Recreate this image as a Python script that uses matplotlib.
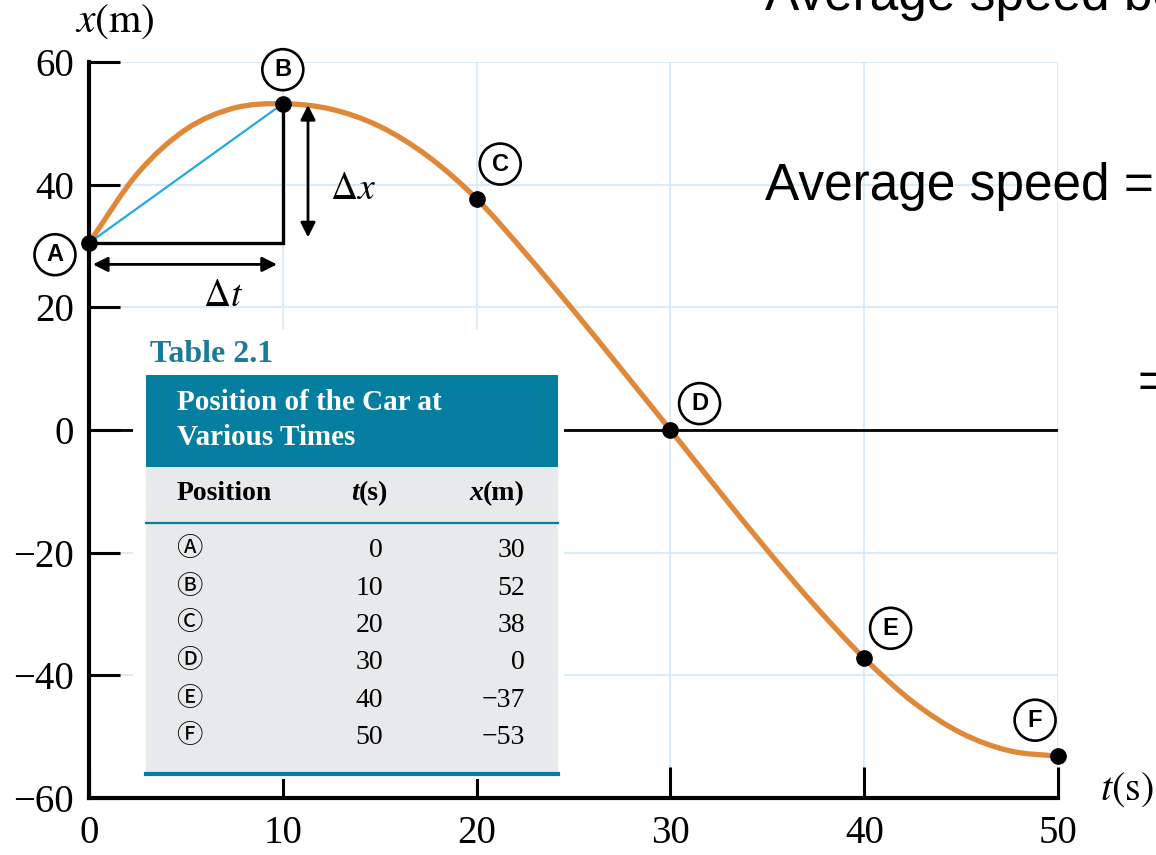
import matplotlib

matplotlib.use("Agg")
import matplotlib.pyplot as plt
from matplotlib.patches import PathPatch, Rectangle
from matplotlib.path import Path
from matplotlib.text import Annotation

plt.rcParams["mathtext.fontset"] = "stix"
plt.rcParams["font.family"] = ["Liberation Serif", "DejaVu Serif"]

# position-time curve of the car
curve_t = [0, 2.5, 5, 7.5, 10, 12.5, 15, 17.5, 20, 22.5, 25, 27.5, 30,
           32.5, 35, 37.5, 40, 42.5, 45, 47.5, 50]
curve_x = [30.5, 41.8, 49.0, 52.5, 53.2, 52.3, 49.5, 44.6, 37.7, 28.9, 19.5,
           9.8, 0, -9.9, -19.6, -28.8, -37.2, -44.3, -49.4, -52.3, -53.2]

# table 2.1
positions = ["A", "B", "C", "D", "E", "F"]
table_t = [0, 10, 20, 30, 40, 50]
table_x = [30, 52, 38, 0, -37, -53]
circled = ["\u24b6", "\u24b7", "\u24b8", "\u24b9", "\u24ba", "\u24bb"]

# label offsets (points) of the circled letters from their dots
label_offsets = [(-24.5, -8.5), (0, 24.5), (17, 25), (21, 19), (19, 21.5), (-16.5, 26)]

xticks = [0, 10, 20, 30, 40, 50]
yticks = [-60, -40, -20, 0, 20, 40, 60]

W, H = 1156, 855
ORANGE = "#e0883a"
BLUE = "#22aae1"
TEAL = "#067e9f"
GRID = "#cfe7f7"


def fx(px):
    return px / W


def fy(py):
    return 1 - py / H


def smooth_path(t, x):
    # cubic Hermite segments through the read points
    n = len(t)
    slopes = []
    for i in range(n):
        a, b = max(i - 1, 0), min(i + 1, n - 1)
        slopes.append((x[b] - x[a]) / (t[b] - t[a]))
    verts = [(t[0], x[0])]
    codes = [Path.MOVETO]
    for i in range(n - 1):
        h = t[i + 1] - t[i]
        verts += [(t[i] + h / 3, x[i] + slopes[i] * h / 3),
                  (t[i + 1] - h / 3, x[i + 1] - slopes[i + 1] * h / 3),
                  (t[i + 1], x[i + 1])]
        codes += [Path.CURVE4] * 3
    return Path(verts, codes)


fig = plt.figure(figsize=(W / 100, H / 100), dpi=100)
ax = fig.add_axes([fx(89), fy(798), fx(1058) - fx(89), fy(62) - fy(798)])
ax.set_xlim(0, 50)
ax.set_ylim(-60, 60)
for side in ["top", "right"]:
    ax.spines[side].set_visible(False)
for side in ["left", "bottom"]:
    ax.spines[side].set_linewidth(3)
ax.set_xticks(xticks)
ax.set_yticks(yticks)
ax.tick_params(direction="in", length=22, width=2.2, labelsize=28, color="black")
ax.tick_params(axis="y", pad=11)
ax.tick_params(axis="x", pad=12)
ax.grid(True, color=GRID, lw=1.1)
ax.set_axisbelow(True)
ax.axhline(0, color="black", lw=2, zorder=1.5)

# white area behind the table
ax.add_patch(Rectangle((2.27, -56.9), 24.5 - 2.27, 16.4 + 56.9, fc="white",
                       ec="none", zorder=2.6))

ax.add_patch(PathPatch(smooth_path(curve_t, curve_x), fill=False, ec=ORANGE,
                       lw=3.8, zorder=4, clip_on=False, capstyle="butt"))

# dots sit on the curve at the tabulated times
dot_x = [curve_x[curve_t.index(t)] for t in table_t]
ax.plot(table_t, dot_x, "o", color="black", ms=11, zorder=6, clip_on=False)

# chord A-B and the right-angle construction
ax.plot(table_t[:2], dot_x[:2], color=BLUE, lw=1.6, zorder=4.5)
ax.plot([table_t[0], table_t[1], table_t[1]], [dot_x[0], dot_x[0], dot_x[1]],
        color="black", lw=2.4, zorder=4.2, solid_joinstyle="miter")

arrow = dict(arrowstyle="<|-|>", color="black", lw=2, mutation_scale=22,
             shrinkA=0, shrinkB=0)
ax.annotate("", xy=(11.3, 53.0), xytext=(11.3, 31.4), arrowprops=arrow, zorder=5)
ax.annotate("", xy=(0.2, 27.0), xytext=(9.7, 27.0), arrowprops=arrow, zorder=5)
ax.text(13.6, 39.2, r"$\Delta x$", fontsize=27, ha="center", va="center")
ax.text(6.9, 21.8, r"$\Delta t$", fontsize=27, ha="center", va="center")

for name, t, x, off in zip(positions, table_t, dot_x, label_offsets):
    ax.annotate(name, xy=(t, x), xytext=off, textcoords="offset points",
                ha="center", va="center", fontsize=17, fontweight="bold",
                family="Liberation Sans", zorder=7, annotation_clip=False,
                bbox=dict(boxstyle="circle,pad=0.38", fc="white", ec="black", lw=1.9))

fig.text(fx(115), fy(22), r"$x(\mathrm{m})$", fontsize=30, ha="center", va="center")
fig.text(fx(1127), fy(790), r"$t(\mathrm{s})$", fontsize=29, ha="center", va="center")

# Table 2.1
fig.text(fx(150), fy(362), "Table 2.1", fontsize=23, fontweight="bold",
         color="#1a7c98", ha="left", va="baseline")
fig.patches.append(Rectangle((fx(146), fy(467)), fx(558) - fx(146), fy(375) - fy(467),
                             transform=fig.transFigure, fc=TEAL, ec="none"))
fig.patches.append(Rectangle((fx(146), fy(772)), fx(558) - fx(146), fy(467) - fy(772),
                             transform=fig.transFigure, fc="#e8e9eb", ec="none"))
fig.add_artist(plt.Line2D([fx(146), fx(558)], [fy(523), fy(523)], color=TEAL, lw=1.6))
fig.add_artist(plt.Line2D([fx(146), fx(558)], [fy(773.5), fy(773.5)], color=TEAL, lw=3))
fig.text(fx(177), fy(410), "Position of the Car at", fontsize=21, fontweight="bold",
         color="white", ha="left", va="baseline")
fig.text(fx(177), fy(445), "Various Times", fontsize=21, fontweight="bold",
         color="white", ha="left", va="baseline")

fig.text(fx(177), fy(500), "Position", fontsize=20, fontweight="bold",
         ha="left", va="baseline")
for right, var, unit in [(388, "t", "(s)"), (525, "x", "(m)")]:
    u = fig.text(fx(right), fy(500), unit, fontsize=20, fontweight="bold",
                 ha="right", va="baseline")
    fig.add_artist(Annotation(var, xy=(0, 0), xycoords=u, ha="right", va="bottom",
                              fontsize=20, fontweight="bold", fontstyle="italic"))

row_base = [557, 595, 632, 669, 707, 744]
for c, t, x, yb in zip(circled, table_t, table_x, row_base):
    fig.text(fx(189), fy(yb - 9), c, fontsize=19,
             family=["Noto Sans CJK JP", "DejaVu Sans"], ha="center", va="center")
    fig.text(fx(383), fy(yb), f"{t}", fontsize=20, ha="right", va="baseline")
    fig.text(fx(525), fy(yb), f"{x}".replace("-", "\u2212"), fontsize=20,
             ha="right", va="baseline")

# slide text around the figure
fig.text(fx(765), fy(10), "Average speed between", fontsize=37,
         family="Liberation Sans", ha="left", va="baseline")
fig.text(fx(765), fy(200), "Average speed =", fontsize=37,
         family="Liberation Sans", ha="left", va="baseline")
fig.text(fx(1138), fy(398), "=", fontsize=37, family="Liberation Sans",
         ha="left", va="baseline")

fig.savefig("out.png", dpi=100)
